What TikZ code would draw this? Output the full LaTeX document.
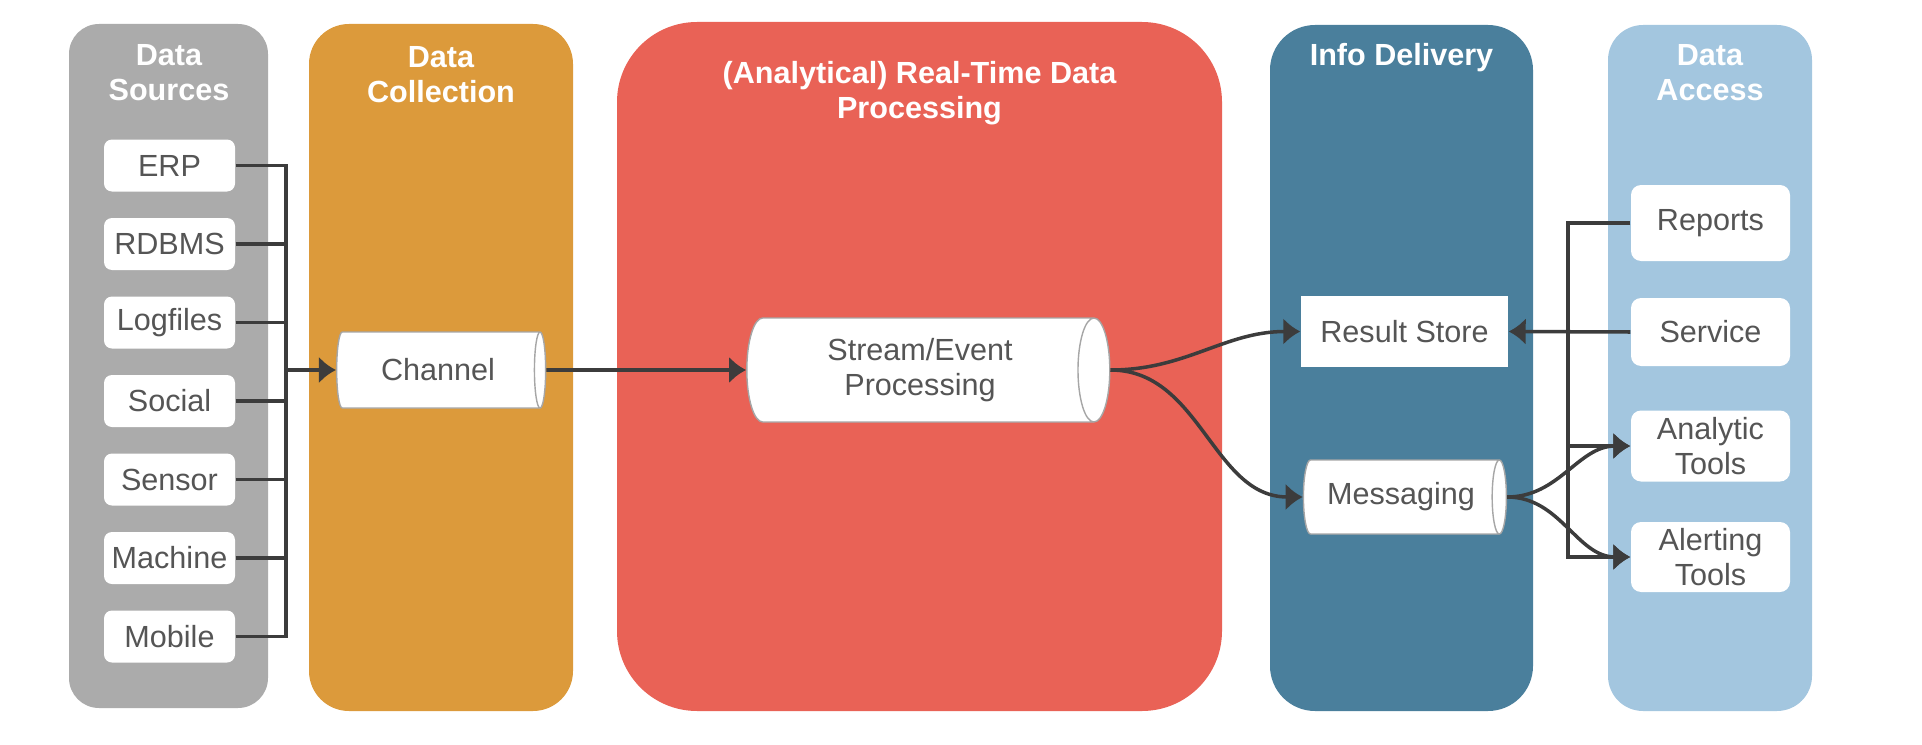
\documentclass[tikz,border=0pt]{standalone}
\usepackage{fontspec}
\setmainfont{Liberation Sans}
\usetikzlibrary{arrows.meta, shapes.geometric}

\definecolor{srcgray}{HTML}{ABABAB}
\definecolor{collorange}{HTML}{DC9A3B}
\definecolor{procred}{HTML}{E96256}
\definecolor{infoblue}{HTML}{4A7F9C}
\definecolor{accessblue}{HTML}{A3C6DF}
\definecolor{txtgray}{HTML}{555555}
\definecolor{linegray}{HTML}{3C3C3C}

\begin{document}
\begin{tikzpicture}[
  font=\fontsize{8.7}{10}\selectfont,
  title/.style={text=white, font=\fontsize{8.7}{10}\selectfont\bfseries, align=center},
  item/.style={fill=white, rounded corners=0.8mm, text=txtgray, align=center, inner sep=0pt},
  pipe/.style={cylinder, shape aspect=0.5, draw=black!35, line width=0.4pt, fill=white, text=txtgray, align=center, inner sep=0pt},
  link/.style={draw=linegray, line width=1pt},
  tip/.style={link, -{Latex[length=1.7mm,width=2.7mm]}}
]
\useasboundingbox (0,0) rectangle (19.22,7.44);

% panels
\fill[srcgray, rounded corners=3mm] (0.69,0.36) rectangle (2.68,7.20);
\fill[collorange, rounded corners=4mm] (3.09,0.33) rectangle (5.73,7.20);
\fill[procred, rounded corners=8mm] (6.17,0.33) rectangle (12.22,7.22);
\fill[infoblue, rounded corners=4.5mm] (12.70,0.33) rectangle (15.33,7.19);
\fill[accessblue, rounded corners=3.5mm] (16.08,0.33) rectangle (18.12,7.19);

\node[title] (srctitle) at (1.69,6.715) {Data\\Sources};
\node[title] (colltitle) at (4.41,6.69) {Data\\Collection};
\node[title] (proctitle) at (9.195,6.51) {(Analytical) Real-Time Data\\Processing};
\node[title] (infotitle) at (14.015,6.86) {Info Delivery};
\node[title] (accesstitle) at (17.10,6.715) {Data\\Access};

% sources
\coordinate (bus) at (2.86,3.74);
\foreach \name [count=\i] in {ERP, RDBMS, Logfiles, Social, Sensor, Machine, Mobile}{
\node[item, minimum width=1.31cm, minimum height=0.52cm] (src\i) at (1.695, 6.57-0.785*\i) {\name};
}
\draw[link] (src1.east) -| (src7.east -| bus) -- (src7.east);
\foreach \i in {2,...,6}{
\draw[link] (src\i.east) -- (src\i.east -| bus);
}

% cylinders: minimum height runs along the axis
\node[pipe, minimum height=2.09cm, minimum width=0.76cm] (channel) at (4.38,3.74) {Channel};
\draw[tip] (bus) -- (channel.west);

\node[pipe, minimum height=3.63cm, minimum width=1.04cm] (stream) at (9.20,3.74) {Stream/Event\\Processing};
\draw[tip] (channel.east) -- (stream.west);

% delivery
\node[fill=white, text=txtgray, minimum width=2.07cm, minimum height=0.71cm, inner sep=0pt] (result) at (14.045,4.125) {Result Store};
\node[pipe, minimum height=2.03cm, minimum width=0.74cm] (messaging) at (14.01,2.47) {Messaging};

\draw[tip] (stream.east) to[out=0, in=180] (result.west);
\draw[tip] (stream.east) to[out=0, in=180] (messaging.west);

% access
\node[item, minimum width=1.59cm, minimum height=0.76cm, rounded corners=1mm] (reports) at (17.105,5.21) {Reports};
\node[item, minimum width=1.59cm, minimum height=0.68cm, rounded corners=1mm] (service) at (17.105,4.12) {Service};
\node[item, minimum width=1.59cm, minimum height=0.71cm, rounded corners=1mm] (analytic) at (17.105,2.98) {Analytic\\Tools};
\node[item, minimum width=1.59cm, minimum height=0.70cm, rounded corners=1mm] (alerting) at (17.105,1.87) {Alerting\\Tools};

\coordinate (tap) at (15.68,4.12);
\draw[tip] (reports.west) -| (alerting.west -| tap) -- (alerting.west);
\draw[tip] (analytic.west -| tap) -- (analytic.west);
\draw[tip] (service.west) -- (result.east);

\draw[tip] (messaging.east) to[out=0, in=180] (analytic.west);
\draw[tip] (messaging.east) to[out=0, in=180] (alerting.west);
\end{tikzpicture}
\end{document}
